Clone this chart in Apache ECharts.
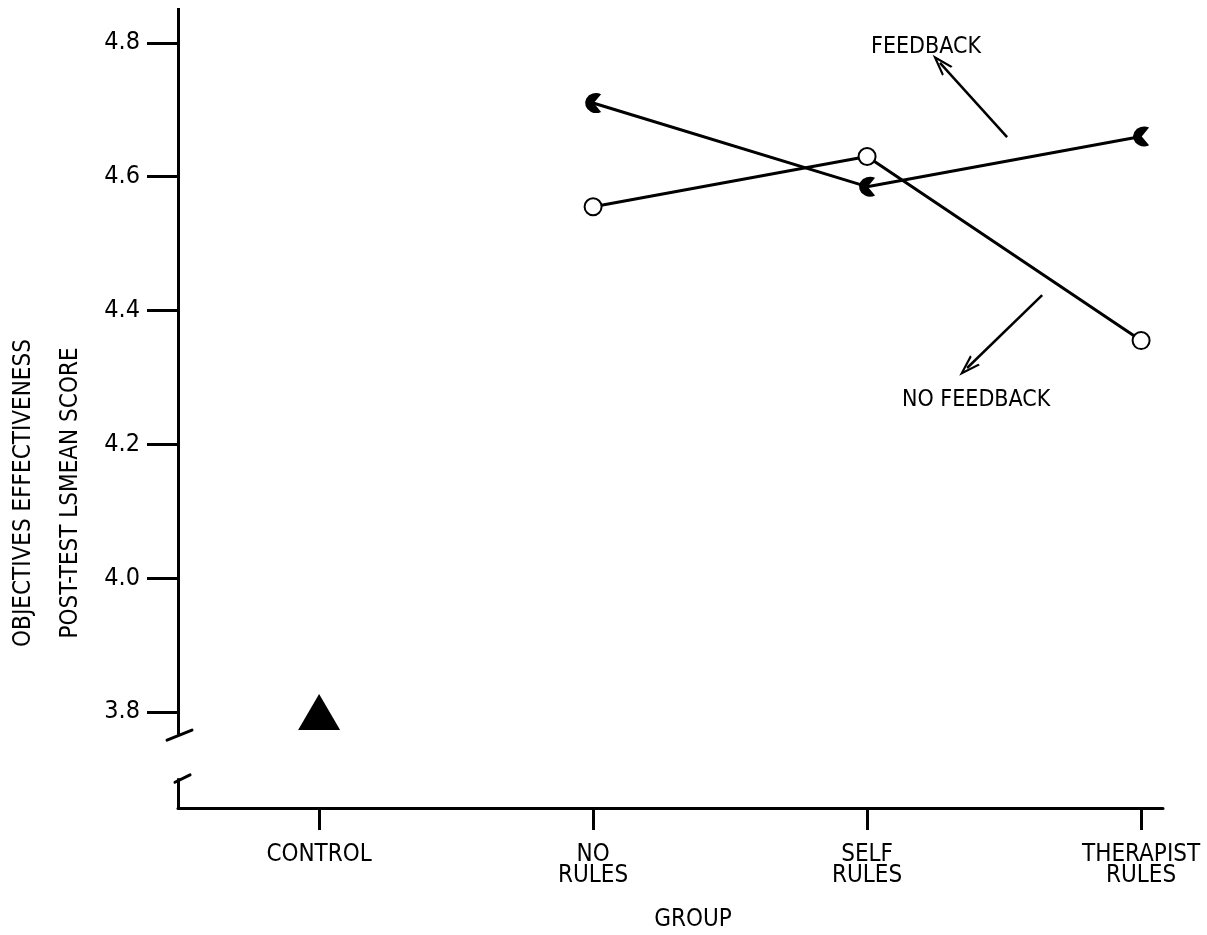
<!DOCTYPE html>
<html>
<head>
<meta charset="utf-8">
<script src="https://cdn.jsdelivr.net/npm/echarts@6/dist/echarts.min.js"></script>
<style>
  html, body { margin: 0; background: #fff; }
  #main { width: 1207px; height: 935px; }
</style>
</head>
<body>
<div id="main"></div>
<script>
// categories on the x axis (index 0..3)
const groups = ['CONTROL', 'NO\nRULES', 'SELF\nRULES', 'THERAPIST\nRULES']
const groupIdx = [0, 1, 2, 3]

// control group mean
const controlScore = [3.80]
// NO RULES, SELF RULES, THERAPIST RULES
const feedbackScore = [4.71, 4.585, 4.66]
const noFeedbackScore = [4.555, 4.63, 4.355]

const yTicks = [3.8, 4.0, 4.2, 4.4, 4.6, 4.8]

const FONT = "'Liberation Sans Narrow', 'DejaVu Sans Condensed', sans-serif"

// axis extents (in data units)
const X_MIN = -0.515, X_MAX = 3.08
const Y_MIN = 3.6565, Y_MAX = 4.852

// half filled marker
const halfDot = 'path://M15,2 A9,9 0 1 0 15,18 L9,10 Z'
// open arrow head
const chevron = 'path://M0,10 L5,0 L10,10 L8.4,10 L5,3.2 L1.6,10 Z'

const chart = echarts.init(document.getElementById('main'))

const option = {
    backgroundColor: '#fff',
    animation: false,
    grid: { left: 178, right: 44, top: 8, bottom: 127 },
    xAxis: {
        type: 'value',
        min: X_MIN,
        max: X_MAX,
        splitLine: { show: false },
        axisLine: { show: true, onZero: false, lineStyle: { color: '#000', width: 3 } },
        axisTick: { show: true, customValues: groupIdx, length: 22, lineStyle: { color: '#000', width: 3 } },
        axisLabel: {
            customValues: groupIdx,
            formatter: v => groups[Math.round(v)],
            margin: 36,
            color: '#000',
            fontFamily: FONT,
            fontSize: 24,
            lineHeight: 21
        }
    },
    yAxis: {
        type: 'value',
        min: Y_MIN,
        max: Y_MAX,
        splitLine: { show: false },
        axisLine: { show: false, onZero: false },
        axisTick: { show: true, customValues: yTicks, length: 31, lineStyle: { color: '#000', width: 3 } },
        axisLabel: {
            customValues: yTicks,
            formatter: v => v.toFixed(1),
            margin: 38,
            color: '#000',
            fontFamily: FONT,
            fontSize: 25
        }
    },
    graphic: [
        {
            id: 'ytitle',
            type: 'text',
            x: 47, y: 493,
            rotation: Math.PI / 2,
            style: {
                text: 'OBJECTIVES EFFECTIVENESS\nPOST-TEST LSMEAN SCORE',
                align: 'center', verticalAlign: 'middle',
                lineHeight: 47, fill: '#000',
                font: '24px ' + FONT
            }
        },
        {
            id: 'xtitle',
            type: 'text',
            x: 693, y: 920,
            style: {
                text: 'GROUP', align: 'center', verticalAlign: 'middle',
                fill: '#000', font: '24px ' + FONT
            }
        }
    ],
    series: [
        {
            // broken y axis line
            name: 'axis',
            type: 'line',
            data: [],
            silent: true,
            markLine: {
                silent: true,
                symbol: ['none', 'none'],
                label: { show: false },
                lineStyle: { color: '#000', width: 3, type: 'solid' },
                data: [
                    [{ coord: [X_MIN, Y_MAX] }, { coord: [X_MIN, 3.766] }],
                    [{ coord: [X_MIN, 3.701] }, { coord: [X_MIN, Y_MIN] }]
                ]
            },
            clip: false
        },
        {
            name: 'CONTROL',
            type: 'scatter',
            data: controlScore.map(v => [0, v]),
            symbol: 'triangle',
            symbolSize: [42, 36],
            itemStyle: { color: '#000', opacity: 1 }
        },
        {
            name: 'FEEDBACK',
            type: 'line',
            data: feedbackScore.map((v, i) => [i + 1, v]),
            symbol: halfDot,
            symbolSize: [16, 20],
            lineStyle: { color: '#000', width: 3 },
            itemStyle: { color: '#000' },
            z: 3
        },
        {
            name: 'NO FEEDBACK',
            type: 'line',
            data: noFeedbackScore.map((v, i) => [i + 1, v]),
            symbol: 'emptyCircle',
            symbolSize: 17,
            lineStyle: { color: '#000', width: 3 },
            itemStyle: { color: '#000', borderColor: '#000', borderWidth: 3.5 },
            z: 3
        },
        {
            // annotation arrows and words
            name: 'notes',
            type: 'line',
            data: [],
            silent: true,
            clip: false,
            markLine: {
                silent: true,
                symbol: ['none', chevron],
                symbolSize: [14, 22],
                label: { show: false },
                lineStyle: { color: '#000', width: 2.5, type: 'solid' },
                data: [
                    [{ coord: [2.511, 4.659] }, { coord: [2.266, 4.770] }],
                    [{ coord: [2.639, 4.423] }, { coord: [2.365, 4.314] }]
                ]
            },
            markPoint: {
                silent: true,
                symbol: 'circle',
                symbolSize: 0,
                label: {
                    show: true,
                    position: 'inside',
                    color: '#000',
                    fontFamily: FONT,
                    fontSize: 23,
                    formatter: p => p.name
                },
                data: [
                    { name: 'FEEDBACK', coord: [2.215, 4.793] },
                    { name: 'NO FEEDBACK', coord: [2.398, 4.266] }
                ]
            }
        }
    ]
}

chart.setOption(option)

// axis break slashes, placed through the chart's own scales
const breakMarks = [
    [[-0.555, 3.758], [-0.464, 3.773]],
    [[-0.526, 3.695], [-0.471, 3.706]]
]
chart.setOption({
    graphic: breakMarks.map((seg, i) => {
        const a = chart.convertToPixel({ gridIndex: 0 }, seg[0])
        const b = chart.convertToPixel({ gridIndex: 0 }, seg[1])
        return {
            id: 'break' + i,
            type: 'line',
            shape: { x1: a[0], y1: a[1], x2: b[0], y2: b[1] },
            style: { stroke: '#000', lineWidth: 3, lineCap: 'round' },
            z: 10
        }
    })
})
</script>
</body>
</html>
